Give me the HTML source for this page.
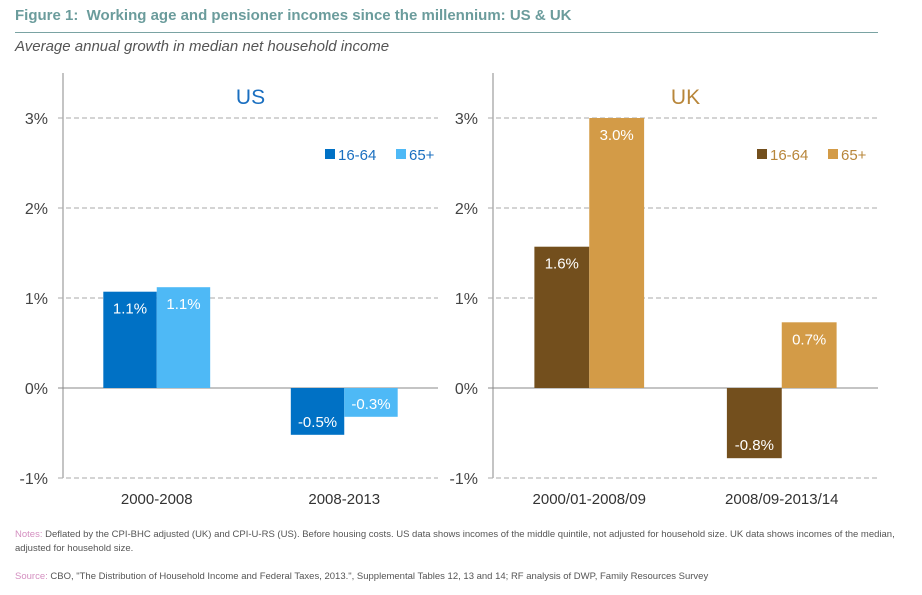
<!DOCTYPE html>
<html><head><meta charset="utf-8"><style>
body{margin:0;width:922px;height:595px;background:#fff;font-family:"Liberation Sans",sans-serif;overflow:hidden;position:relative}
.t{position:absolute;white-space:nowrap}
</style></head><body>
<div class="t" style="left:15px;top:7px;font-size:15px;font-weight:bold;color:#6b9c9c">Figure 1:&nbsp; Working age and pensioner incomes since the millennium: US &amp; UK</div>
<div style="position:absolute;left:15px;top:32px;width:863px;height:1px;background:#7aa3a3"></div>
<div class="t" style="left:15px;top:38px;font-size:15px;font-style:italic;color:#555">Average annual growth in median net household income</div>
<div class="t" style="left:15px;top:528px;font-size:9.5px;color:#555;line-height:14px;white-space:normal;width:880px"><span style="color:#d48fc0">Notes:</span> Deflated by the CPI-BHC adjusted (UK) and CPI-U-RS (US). Before housing costs. US data shows incomes of the middle quintile, not adjusted for household size. UK data shows incomes of the median, adjusted for household size.</div>
<div class="t" style="left:15px;top:571px;font-size:9.5px;color:#555"><span style="color:#d48fc0">Source:</span> CBO, "The Distribution of Household Income and Federal Taxes, 2013.", Supplemental Tables 12, 13 and 14; RF analysis of DWP, Family Resources Survey</div>
<svg id="c" width="922" height="595" style="position:absolute;left:0;top:0"></svg>
<script>
const ticks=[3,2,1,0,-1];
const tickLabels=["3%","2%","1%","0%","-1%"];
const usCats=["2000-2008","2008-2013"];
const usWorking=[1.07,-0.52];
const usPension=[1.12,-0.32];
const usLabelsW=["1.1%","-0.5%"];
const usLabelsP=["1.1%","-0.3%"];
const ukCats=["2000/01-2008/09","2008/09-2013/14"];
const ukWorking=[1.57,-0.78];
const ukPension=[3.0,0.73];
const ukLabelsW=["1.6%","-0.8%"];
const ukLabelsP=["3.0%","0.7%"];
const svg=document.getElementById('c');
const NS="http://www.w3.org/2000/svg";
function mk(t,a,txt){const e=document.createElementNS(NS,t);for(const k in a)e.setAttribute(k,a[k]);if(txt!==undefined)e.textContent=txt;svg.appendChild(e);return e;}
const y=v=>388-v*90;
function panel(p){
  const ax=mk('line',{x1:p.x0,x2:p.x0,y1:73,y2:478,stroke:'#888','stroke-width':1});
  
  
  ticks.forEach((t,i)=>{
    const g=mk('line',{x1:p.x0-5,x2:p.x1,y1:y(t),y2:y(t),stroke:t===0?'#888':'#aaa','stroke-width':1,'stroke-dasharray':t===0?'':'5,3'});
    
    
    const l=mk('text',{x:p.x0-15,y:y(t)+6,'text-anchor':'end','font-size':16,fill:'#444'},tickLabels[i]);
    
    
  });
  const w=(p.x1-p.x0)/p.cats.length, bw=w*0.285;
  p.cats.forEach((c,i)=>{
    const cx=p.x0+w*(i+0.5);
    [[p.a,p.la,p.ca,cx-bw],[p.b,p.lb,p.cb,cx]].forEach(([vals,labs,col,bx],s)=>{
      const v=vals[i];
      const r=mk('rect',{x:bx,y:Math.min(y(v),y(0)),width:bw,height:Math.abs(y(v)-y(0)),fill:col});
      
      
      const ty=v>=0?y(v)+22:y(v)-8;
      const tl=mk('text',{x:bx+bw/2,y:ty,'text-anchor':'middle','font-size':15,fill:'#fff'},labs[i]);
      
      
    });
    const cl=mk('text',{x:cx,y:504,'text-anchor':'middle','font-size':15,fill:'#333'},c);
    
    
  });
  const tt=mk('text',{x:(p.x0+p.x1)/2,y:104,'text-anchor':'middle','font-size':21,fill:p.tc},p.title);
  
  
  [[p.lx,p.ca,'16-64'],[p.lx+71,p.cb,'65+']].forEach(([lx,col,txt])=>{
    const s=mk('rect',{x:lx,y:149,width:10,height:10,fill:col});
    
    
    const lt=mk('text',{x:lx+13,y:160,'font-size':15,fill:p.tc},txt);
    
    
  });
}
panel({id:'us',x0:63,x1:438,cats:usCats,a:usWorking,b:usPension,la:usLabelsW,lb:usLabelsP,ca:'#0071c5',cb:'#4eb9f6',tc:'#1a6fc0',title:'US',lx:325});
panel({id:'uk',x0:493,x1:878,cats:ukCats,a:ukWorking,b:ukPension,la:ukLabelsW,lb:ukLabelsP,ca:'#734f1d',cb:'#d39b47',tc:'#b8863a',title:'UK',lx:757});
</script>
</body></html>
